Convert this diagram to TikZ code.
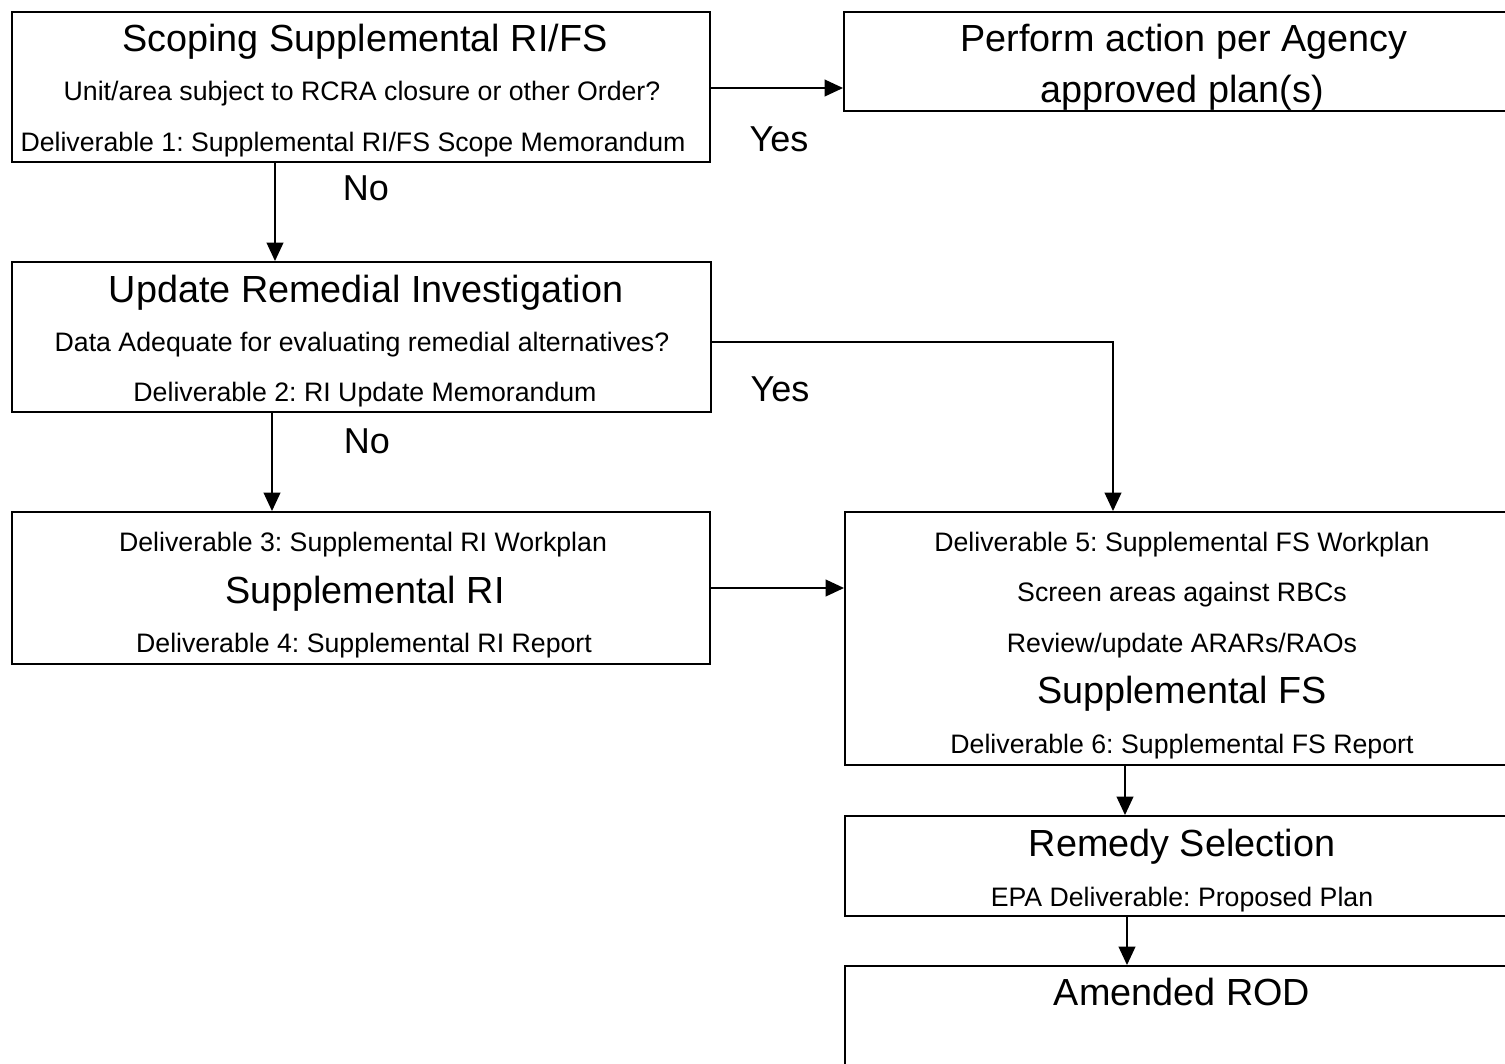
\documentclass[tikz,border=0pt]{standalone}
\usepackage{fontspec}
\setmainfont{Liberation Sans}
\usetikzlibrary{fit,arrows.meta}
\tikzset{
  box/.style={draw, line width=1.1pt, inner sep=0pt},
  big/.style={anchor=base, inner sep=0pt, font=\fontsize{21.5}{24}\selectfont},
  small/.style={anchor=base, inner sep=0pt, font=\fontsize{15.2}{18}\selectfont},
  lbl/.style={anchor=base, inner sep=0pt, font=\fontsize{20.5}{24}\selectfont},
  arr/.style={line width=1.1pt, -{Triangle[length=10.5pt,width=9.5pt]}},
}
\frenchspacing
\begin{document}
\frenchspacing
\begin{tikzpicture}[x=0.02cm,y=-0.02cm]
\useasboundingbox (0,0) rectangle (1505,1063);
\clip (0,0) rectangle (1505,1063);
% boxes
\node[box, fit={(12,12) (710,162)}] (b1) {};
\node[box, fit={(844,12) (1525,111)}] (b2) {};
\node[box, fit={(12,262) (711,412)}] (b3) {};
\node[box, fit={(12,512) (710,664)}] (b4) {};
\node[box, fit={(845,512) (1525,765)}] (b5) {};
\node[box, fit={(845,816) (1525,916)}] (b6) {};
\node[box, fit={(845,966) (1525,1090)}] (b7) {};
% texts
\node[big] (t11) at (365,51) {Scoping Supplemental RI/FS};
\node[small] (t12) at (362,100) {Unit/area subject to RCRA closure or other Order?};
\node[small] (t13) at (353,151) {Deliverable 1: Supplemental RI/FS Scope Memorandum};
\node[big] (t21) at (1184,51) {Perform action per Agency};
\node[big] (t22) at (1182,102) {approved plan(s)};
\node[big] (t31) at (366,302) {Update Remedial Investigation};
\node[small] (t32) at (362,351) {Data Adequate for evaluating remedial alternatives?};
\node[small] (t33) at (365,401) {Deliverable 2: RI Update Memorandum};
\node[small] (t41) at (363,551) {Deliverable 3: Supplemental RI Workplan};
\node[big] (t42) at (365,603) {Supplemental RI};
\node[small] (t43) at (364,652) {Deliverable 4: Supplemental RI Report};
\node[small] (t51) at (1182,551) {Deliverable 5: Supplemental FS Workplan};
\node[small] (t52) at (1182,601) {Screen areas against RBCs};
\node[small] (t53) at (1182,652) {Review/update ARARs/RAOs};
\node[big] (t54) at (1182,703) {Supplemental FS};
\node[small] (t55) at (1182,753) {Deliverable 6: Supplemental FS Report};
\node[big] (t61) at (1182,856) {Remedy Selection};
\node[small] (t62) at (1182,906) {EPA Deliverable: Proposed Plan};
\node[big] (t71) at (1182,1005) {Amended ROD};
% labels
\node[lbl] (y1) at (779,151) {Yes};
\node[lbl] (n1) at (366,200) {No};
\node[lbl] (y2) at (780,401) {Yes};
\node[lbl] (n2) at (367,453) {No};
% helper coordinates
\coordinate (c1) at (275,0);
\coordinate (c2) at (0,342);
\coordinate (c3) at (1113,0);
\coordinate (c4) at (272,0);
\coordinate (c5) at (1125,0);
\coordinate (c6) at (1127,0);
\coordinate (c7) at (0,88);
% connectors
\draw[arr] (b1.east |- c7) -- (b2.west |- c7);
\draw[arr] (b1.south -| c1) -- (b3.north -| c1);
\draw[arr] (b3.east |- c2) -| (b5.north -| c3);
\draw[arr] (b3.south -| c4) -- (b4.north -| c4);
\draw[arr] (b4.east) -- (b4.east -| b5.west);
\draw[arr] (b5.south -| c5) -- (b6.north -| c5);
\draw[arr] (b6.south -| c6) -- (b7.north -| c6);
\end{tikzpicture}
\end{document}
